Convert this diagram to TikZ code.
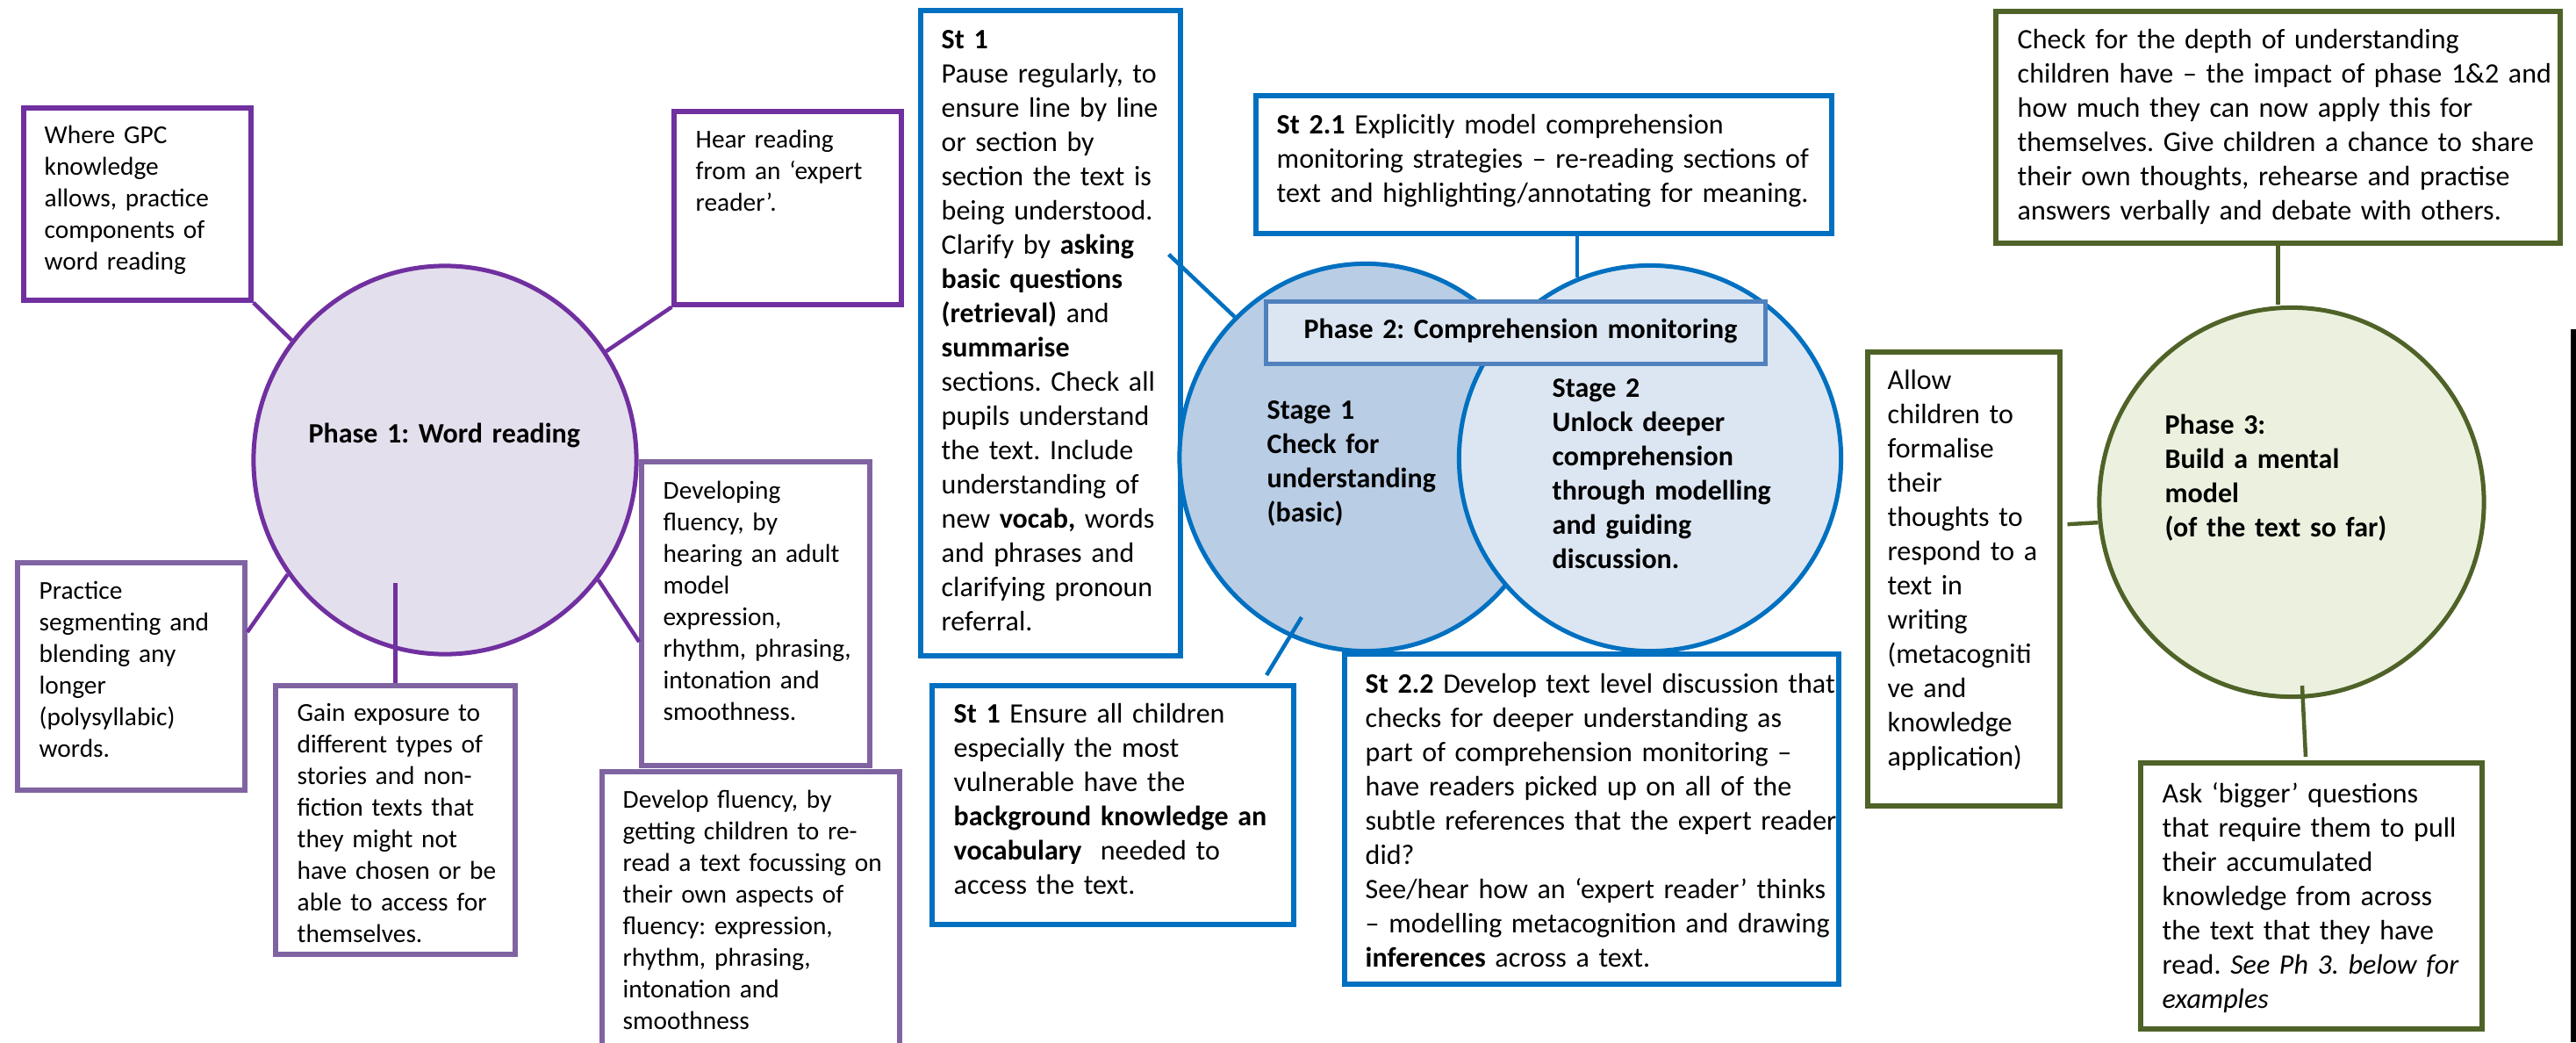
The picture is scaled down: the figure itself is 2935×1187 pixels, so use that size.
\documentclass[tikz,border=0pt]{standalone}
\usepackage{fontspec}
\setmainfont{Carlito}
\usepackage{tikz}
\usetikzlibrary{shapes.geometric,fit}
\frenchspacing

\definecolor{ppurple}{HTML}{7030A0}
\definecolor{lpurple}{HTML}{8064A2}
\definecolor{pfill}{HTML}{E4DFEC}
\definecolor{sblue}{HTML}{0070C0}
\definecolor{mblue}{HTML}{4F81BD}
\definecolor{bfill}{HTML}{B9CDE5}
\definecolor{bfilltwo}{HTML}{DCE6F2}
\definecolor{ogreen}{HTML}{4F6228}
\definecolor{gfill}{HTML}{EBF1DE}

\tikzset{
  box/.style={draw, fill=white, line width=0.055cm, inner sep=0pt},
  pbox/.style={box, draw=ppurple},
  lpbox/.style={box, draw=lpurple},
  bbox/.style={box, draw=sblue},
  gbox/.style={box, draw=ogreen},
  phase/.style={ellipse, line width=0.05cm, inner sep=0pt},
  txt/.style={anchor=base west, inner sep=0pt, text width=8cm, align=left, font=\fontsize{9.1}{11.1}\selectfont},
  ptxt/.style={txt, font=\fontsize{8.35}{10.24}\selectfont},
  btxt/.style={txt, font=\fontsize{9.1}{11.1}\selectfont\bfseries},
  link/.style={line width=0.045cm},
}

\begin{document}
\begin{tikzpicture}[x=0.01cm, y=-0.01cm]
\useasboundingbox (0,0) rectangle (2935,1187);

% phase 1
\node[phase, draw=ppurple, fill=pfill, minimum width=4.36cm, minimum height=4.42cm] (ph1) at (507,524) {};
\node[btxt] (ph1t) at (351,504) {Phase 1: Word reading};
\node[pbox, fit={(27,123) (286,342)}] (gpc) {};
\node[ptxt] (gpct) at (50,163) {Where GPC\\knowledge\\allows, practice\\components of\\word reading};
\node[pbox, fit={(768,127) (1027,347)}] (hear) {};
\node[ptxt] (heart) at (792,168) {Hear reading\\from an ‘expert\\reader’.};
\node[lpbox, fit={(731,526) (991,872)}] (dev) {};
\node[ptxt] (devt) at (755,568) {Developing\\fluency, by\\hearing an adult\\model\\expression,\\rhythm, phrasing,\\intonation and\\smoothness.};
\node[lpbox, fit={(20,641) (279,900)}] (prac) {};
\node[ptxt] (pract) at (44,682) {Practice\\segmenting and\\blending any\\longer\\(polysyllabic)\\words.};
\node[lpbox, fit={(314,781) (587,1087)}] (gain) {};
\node[ptxt] (gaint) at (338,821) {Gain exposure to\\different types of\\stories and non-\\fiction texts that\\they might not\\have chosen or be\\able to access for\\themselves.};
\node[lpbox, fit={(686,879) (1025,1210)}] (devf) {};
\node[ptxt] (devft) at (709,920) {Develop fluency, by\\getting children to re-\\read a text focussing on\\their own aspects of\\fluency: expression,\\rhythm, phrasing,\\intonation and\\smoothness};

\draw[link, ppurple] (gpc.south east) -- (ph1.142);
\draw[link, ppurple] (hear.south west) -- (ph1.34);
\draw[link, ppurple] (prac.east |- 0,720) -- (ph1.216);
\draw[link, ppurple] (gain.north) -- ++(0,-114);
\draw[link, ppurple] (ph1.-38) -- (dev.west |- 0,731);

% phase 2
\node[bbox, fit={(1049,12) (1345,747)}] (st1) {};
\node[txt] (st1t) at (1072,55) {\textbf{St 1}\\Pause regularly, to\\ensure line by line\\or section by\\section the text is\\being understood.\\Clarify by \textbf{asking}\\\textbf{basic questions}\\\textbf{(retrieval)} and\\\textbf{summarise}\\sections. Check all\\pupils understand\\the text. Include\\understanding of\\new \textbf{vocab,} words\\and phrases and\\clarifying pronoun\\referral.};
\node[bbox, fit={(1431,109) (2087,266)}] (st21) {};
\node[txt] (st21t) at (1454,152) {\textbf{St 2.1} Explicitly model comprehension\\monitoring strategies – re-reading sections of\\text and highlighting/annotating for meaning.};
\node[phase, draw=sblue, fill=bfill, minimum width=4.24cm, minimum height=4.41cm] (cl) at (1556,521) {};
\node[phase, draw=sblue, fill=bfilltwo, minimum width=4.35cm, minimum height=4.39cm] (cr) at (1880,522) {};
\node[draw=mblue, fill=bfilltwo, line width=0.05cm, inner sep=0pt, fit={(1442,343) (2011,414)}] (ph2) {};
\node[btxt] (ph2t) at (1485,385) {Phase 2: Comprehension monitoring};
\node[btxt] (sg1t) at (1443,477) {Stage 1\\Check for\\understanding\\(basic)};
\node[btxt] (sg2t) at (1768,452) {Stage 2\\Unlock deeper\\comprehension\\through modelling\\and guiding\\discussion.};
\node[bbox, fit={(1062,781) (1474,1053)}] (se) {};
\node[txt] (set) at (1086,823) {\textbf{St 1} Ensure all children\\especially the most\\vulnerable have the\\\textbf{background knowledge an}\\\textbf{vocabulary}~ needed to\\access the text.};
\node[bbox, fit={(1532,745) (2095,1121)}] (st22) {};
\node[txt] (st22t) at (1555,789) {\textbf{St 2.2} Develop text level discussion that\\checks for deeper understanding as\\part of comprehension monitoring –\\have readers picked up on all of the\\subtle references that the expert reader\\did?\\See/hear how an ‘expert reader’ thinks\\– modelling metacognition and drawing\\\textbf{inferences} across a text.};

\draw[link, sblue] (cl.133) -- ++(-75,-71);
\draw[link, sblue] (cr.112.5) -- (cr.112.5 |- st21.south);
\draw[link, sblue] (cl.center) ++(-73,182) -- ++(-40,66);

% phase 3
\node[gbox, fit={(2274,13) (2917,277)}] (chk) {};
\node[txt] (chkt) at (2298,55) {Check for the depth of understanding\\children have – the impact of phase 1\&2 and\\how much they can now apply this for\\themselves. Give children a chance to share\\their own thoughts, rehearse and practise\\answers verbally and debate with others.};
\node[phase, draw=ogreen, fill=gfill, minimum width=4.38cm, minimum height=4.43cm] (ph3) at (2611,572) {};
\node[btxt] (ph3t) at (2466,494) {Phase 3:\\Build a mental\\model\\(of the text so far)};
\node[gbox, fit={(2128,401) (2347,918)}] (allow) {};
\node[txt] (allowt) at (2150,443) {Allow\\children to\\formalise\\their\\thoughts to\\respond to a\\text in\\writing\\(metacogniti\\ve and\\knowledge\\application)};
\node[gbox, fit={(2439,869) (2828,1172)}] (ask) {};
\node[txt] (askt) at (2463,914) {Ask ‘bigger’ questions\\that require them to pull\\their accumulated\\knowledge from across\\the text that they have\\read. \textit{See Ph 3. below for}\\\textit{examples}};

\draw[link, ogreen] (chk.south) -- ++(0,67);
\draw[link, ogreen] (ph3.186) -- ++(-35,2);
\draw[link, ogreen] (ph3.center) ++(12,209) -- ++(4,81);

% page edge
\draw[line width=0.055cm] (2932,375) -- (2932,1187);
\end{tikzpicture}
\end{document}
